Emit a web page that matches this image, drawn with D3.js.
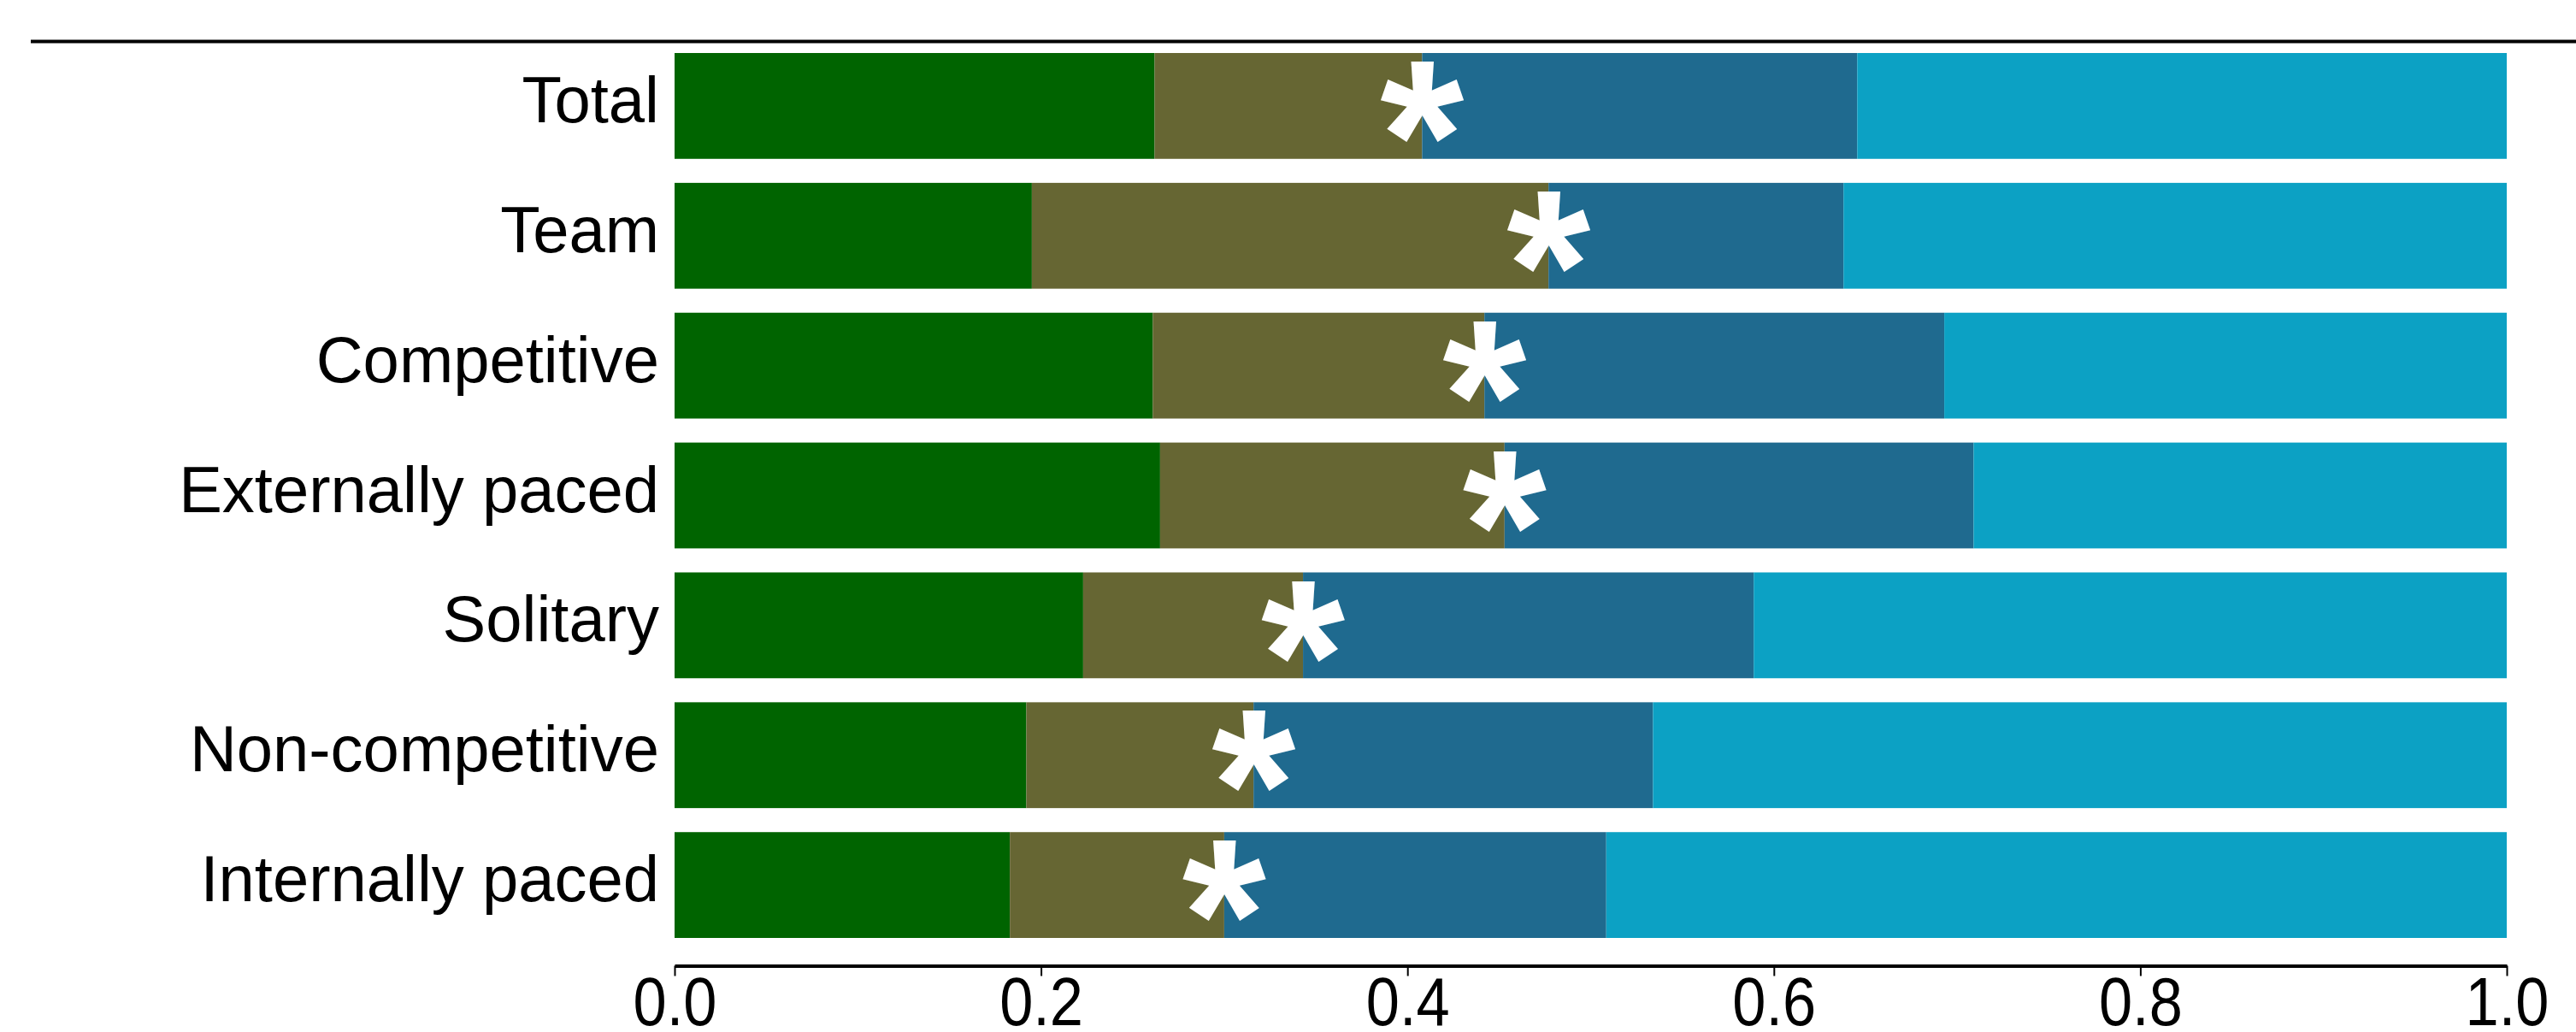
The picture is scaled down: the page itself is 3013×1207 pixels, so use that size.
<!DOCTYPE html>
<html>
<head>
<meta charset="utf-8">
<script src="https://cdn.jsdelivr.net/npm/d3@7"></script>
<style>
  html, body { margin: 0; padding: 0; background: #ffffff; }
  svg { display: block; }
  text { font-family: "Liberation Sans", Arial, Helvetica, sans-serif; }
</style>
</head>
<body>
<svg id="chart" width="3013" height="1207"></svg>
<script>
// ---- data ----
const categories = ["Total", "Team", "Competitive", "Externally paced", "Solitary", "Non-competitive", "Internally paced"];
const seriesKeys = ["Group 1", "Group 2", "Group 3", "Group 4"];
const group1 = [0.262, 0.195, 0.261, 0.265, 0.223, 0.192, 0.183];
const group2 = [0.146, 0.282, 0.181, 0.188, 0.120, 0.124, 0.117];
const group3 = [0.2375, 0.161, 0.251, 0.256, 0.246, 0.218, 0.2085];
const group4 = [0.3545, 0.362, 0.307, 0.291, 0.411, 0.466, 0.4915];
const significant = [true, true, true, true, true, true, true];
const tickValues = [0.0, 0.2, 0.4, 0.6, 0.8, 1.0];
const colors = ["#006400", "#666633", "#1f6a8f", "#0ca1c4"];

// ---- build table ----
const rows = categories.map((c, i) => ({
  category: c,
  "Group 1": group1[i], "Group 2": group2[i], "Group 3": group3[i], "Group 4": group4[i],
  sig: significant[i]
}));

const svg = d3.select("#chart");
svg.append("rect").attr("width", 3013).attr("height", 1207).attr("fill", "#fff");

const x = d3.scaleLinear().domain([0, 1]).range([789, 2932]);
const y = d3.scaleBand().domain(categories).range([62, 1097]).paddingInner(0.185).paddingOuter(0);
const color = d3.scaleOrdinal().domain(seriesKeys).range(colors);

// top rule
svg.append("line").attr("x1", 36).attr("x2", 3013).attr("y1", 48.5).attr("y2", 48.5)
  .attr("stroke", "#000").attr("stroke-width", 4);

const stacked = d3.stack().keys(seriesKeys)(rows);

svg.append("g").selectAll("g").data(stacked).join("g")
  .attr("fill", d => color(d.key))
  .selectAll("rect").data(d => d).join("rect")
  .attr("x", d => x(d[0]))
  .attr("width", d => x(d[1]) - x(d[0]))
  .attr("y", d => y(d.data.category))
  .attr("height", y.bandwidth());

// significance asterisks at boundary between group 2 and group 3
svg.append("g").selectAll("text").data(rows.filter(r => r.sig)).join("text")
  .attr("x", d => x(d["Group 1"] + d["Group 2"]))
  .attr("y", d => y(d.category) + y.bandwidth() / 2)
  .attr("dy", "0.485em")
  .attr("text-anchor", "middle")
  .attr("fill", "#fff")
  .attr("font-weight", "bold")
  .attr("font-size", 252)
  .text("*");

// category labels
svg.append("g").selectAll("text").data(categories).join("text")
  .attr("x", 771)
  .attr("y", d => y(d) + y.bandwidth() / 2)
  .attr("dy", "0.25em")
  .attr("text-anchor", "end")
  .attr("font-size", 76)
  .attr("fill", "#000")
  .text(d => d);

// x axis
const axis = svg.append("g")
  .attr("transform", "translate(0,1129.5)")
  .call(d3.axisBottom(x).tickValues(tickValues).tickFormat(d3.format(".1f")).tickSize(12).tickSizeOuter(0));
axis.select(".domain").attr("stroke", "#000").attr("stroke-width", 4);
axis.selectAll(".tick line").attr("stroke", "#000").attr("stroke-width", 2);
axis.selectAll(".tick text")
  .attr("font-family", "'Liberation Sans', Arial, sans-serif")
  .attr("font-size", 80)
  .attr("y", 13)
  .attr("transform", "scale(0.88,1)")
  .attr("fill", "#000");
</script>
</body>
</html>
